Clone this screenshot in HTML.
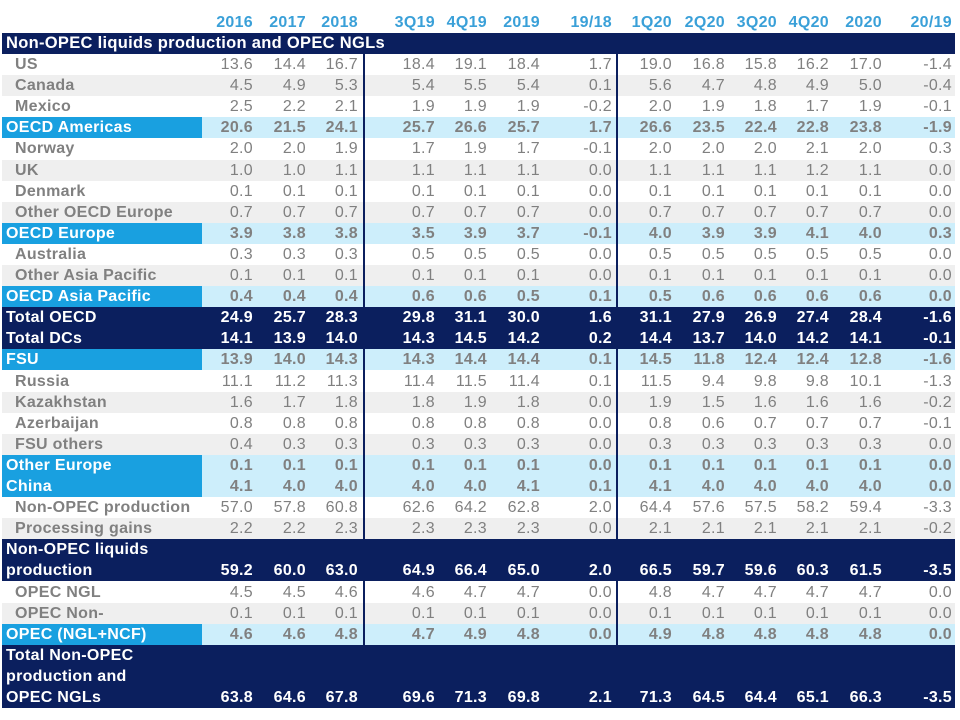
<!DOCTYPE html>
<html><head><meta charset="utf-8"><style>
body{margin:0;width:960px;height:720px;background:#fff;overflow:hidden;font-family:"Liberation Sans",Arial,sans-serif;}
#t{position:absolute;left:0;top:0;width:960px;height:720px;}
.c{position:absolute;font-size:16px;white-space:nowrap;line-height:21px;letter-spacing:0.3px;}
.r{position:absolute;left:2px;width:953px;}
</style></head><body>
<div id="t"></div>
<script>
const headers=["2016","2017","2018","3Q19","4Q19","2019","19/18","1Q20","2Q20","3Q20","4Q20","2020","20/19"];
const colRight=[253,306,358,435,487,540,612,672,725,777,829,882,952];
// type: w white, g gray, h highlight, n navy
const rows=[
["US","w",[13.6,14.4,16.7,18.4,19.1,18.4,1.7,19.0,16.8,15.8,16.2,17.0,-1.4]],
["Canada","g",[4.5,4.9,5.3,5.4,5.5,5.4,0.1,5.6,4.7,4.8,4.9,5.0,-0.4]],
["Mexico","w",[2.5,2.2,2.1,1.9,1.9,1.9,-0.2,2.0,1.9,1.8,1.7,1.9,-0.1]],
["OECD Americas","h",[20.6,21.5,24.1,25.7,26.6,25.7,1.7,26.6,23.5,22.4,22.8,23.8,-1.9]],
["Norway","w",[2.0,2.0,1.9,1.7,1.9,1.7,-0.1,2.0,2.0,2.0,2.1,2.0,0.3]],
["UK","g",[1.0,1.0,1.1,1.1,1.1,1.1,0.0,1.1,1.1,1.1,1.2,1.1,0.0]],
["Denmark","w",[0.1,0.1,0.1,0.1,0.1,0.1,0.0,0.1,0.1,0.1,0.1,0.1,0.0]],
["Other OECD Europe","g",[0.7,0.7,0.7,0.7,0.7,0.7,0.0,0.7,0.7,0.7,0.7,0.7,0.0]],
["OECD Europe","h",[3.9,3.8,3.8,3.5,3.9,3.7,-0.1,4.0,3.9,3.9,4.1,4.0,0.3]],
["Australia","w",[0.3,0.3,0.3,0.5,0.5,0.5,0.0,0.5,0.5,0.5,0.5,0.5,0.0]],
["Other Asia Pacific","g",[0.1,0.1,0.1,0.1,0.1,0.1,0.0,0.1,0.1,0.1,0.1,0.1,0.0]],
["OECD Asia Pacific","h",[0.4,0.4,0.4,0.6,0.6,0.5,0.1,0.5,0.6,0.6,0.6,0.6,0.0]],
["Total OECD","n",[24.9,25.7,28.3,29.8,31.1,30.0,1.6,31.1,27.9,26.9,27.4,28.4,-1.6]],
["Total DCs","n",[14.1,13.9,14.0,14.3,14.5,14.2,0.2,14.4,13.7,14.0,14.2,14.1,-0.1]],
["FSU","h",[13.9,14.0,14.3,14.3,14.4,14.4,0.1,14.5,11.8,12.4,12.4,12.8,-1.6]],
["Russia","w",[11.1,11.2,11.3,11.4,11.5,11.4,0.1,11.5,9.4,9.8,9.8,10.1,-1.3]],
["Kazakhstan","g",[1.6,1.7,1.8,1.8,1.9,1.8,0.0,1.9,1.5,1.6,1.6,1.6,-0.2]],
["Azerbaijan","w",[0.8,0.8,0.8,0.8,0.8,0.8,0.0,0.8,0.6,0.7,0.7,0.7,-0.1]],
["FSU others","g",[0.4,0.3,0.3,0.3,0.3,0.3,0.0,0.3,0.3,0.3,0.3,0.3,0.0]],
["Other Europe","h",[0.1,0.1,0.1,0.1,0.1,0.1,0.0,0.1,0.1,0.1,0.1,0.1,0.0]],
["China","h",[4.1,4.0,4.0,4.0,4.0,4.1,0.1,4.1,4.0,4.0,4.0,4.0,0.0]],
["Non-OPEC production","w",[57.0,57.8,60.8,62.6,64.2,62.8,2.0,64.4,57.6,57.5,58.2,59.4,-3.3]],
["Processing gains","g",[2.2,2.2,2.3,2.3,2.3,2.3,0.0,2.1,2.1,2.1,2.1,2.1,-0.2]],
["Non-OPEC liquids|production","n",[59.2,60.0,63.0,64.9,66.4,65.0,2.0,66.5,59.7,59.6,60.3,61.5,-3.5]],
["OPEC NGL","w",[4.5,4.5,4.6,4.6,4.7,4.7,0.0,4.8,4.7,4.7,4.7,4.7,0.0]],
["OPEC Non-","g",[0.1,0.1,0.1,0.1,0.1,0.1,0.0,0.1,0.1,0.1,0.1,0.1,0.0]],
["OPEC (NGL+NCF)","h",[4.6,4.6,4.8,4.7,4.9,4.8,0.0,4.9,4.8,4.8,4.8,4.8,0.0]],
["Total Non-OPEC|production and|OPEC NGLs","n",[63.8,64.6,67.8,69.6,71.3,69.8,2.1,71.3,64.5,64.4,65.1,66.3,-3.5]]
];
const T=document.getElementById('t');
const RH=21.1;
function mk(cls,css,txt){const d=document.createElement('div');d.className=cls;d.style.cssText=css;if(txt!==undefined)d.textContent=txt;T.appendChild(d);return d;}
headers.forEach((h,i)=>{
 const d=mk('c',`right:${960-colRight[i]}px;top:12px;color:#3aa0d8;font-weight:bold;`,h);
 
 
});
const title=mk('r',`top:33px;height:21px;background:#0b1f5e;`);


const tt=mk('c',`left:6px;top:33px;color:#fff;font-weight:bold;font-size:16.5px;`,"Non-OPEC liquids production and OPEC NGLs");


let y=54;
rows.forEach(r=>{
 const lines=r[0].split('|');const t=r[1];const h=RH*lines.length;
 const bg=t==='g'?'#efefef':t==='h'?'#cdeefb':t==='n'?'#0b1f5e':'#fff';
 const row=mk('r',`top:${y}px;height:${h}px;background:${bg};`);
 
 
 if(t==='h'){const lb=mk('r',`top:${y}px;height:${h}px;width:200px;background:#19a0e0;`);}
 const light=(t==='h'||t==='n');
 lines.forEach((ln,k)=>{
  const lab=mk('c',`left:${light?6:15}px;top:${y+k*RH}px;color:${light?'#fff':'#808080'};font-weight:bold;`,ln);
  
  
 });
 const vy=y+(lines.length-1)*RH;
 r[2].forEach((v,i)=>{
  const c=mk('c',`right:${960-colRight[i]}px;top:${vy}px;color:${t==='n'?'#fff':'#808080'};font-weight:${t==='n'||t==='h'?'bold':'normal'};`,v.toFixed(1));
  
  
 });
 y+=h;
});
[363,616].forEach(x=>{
 const l=mk('r',`left:${x}px;width:2px;top:54px;height:${y-54}px;background:#0b1f5e;`);
 
 
});
</script>
</body></html>
